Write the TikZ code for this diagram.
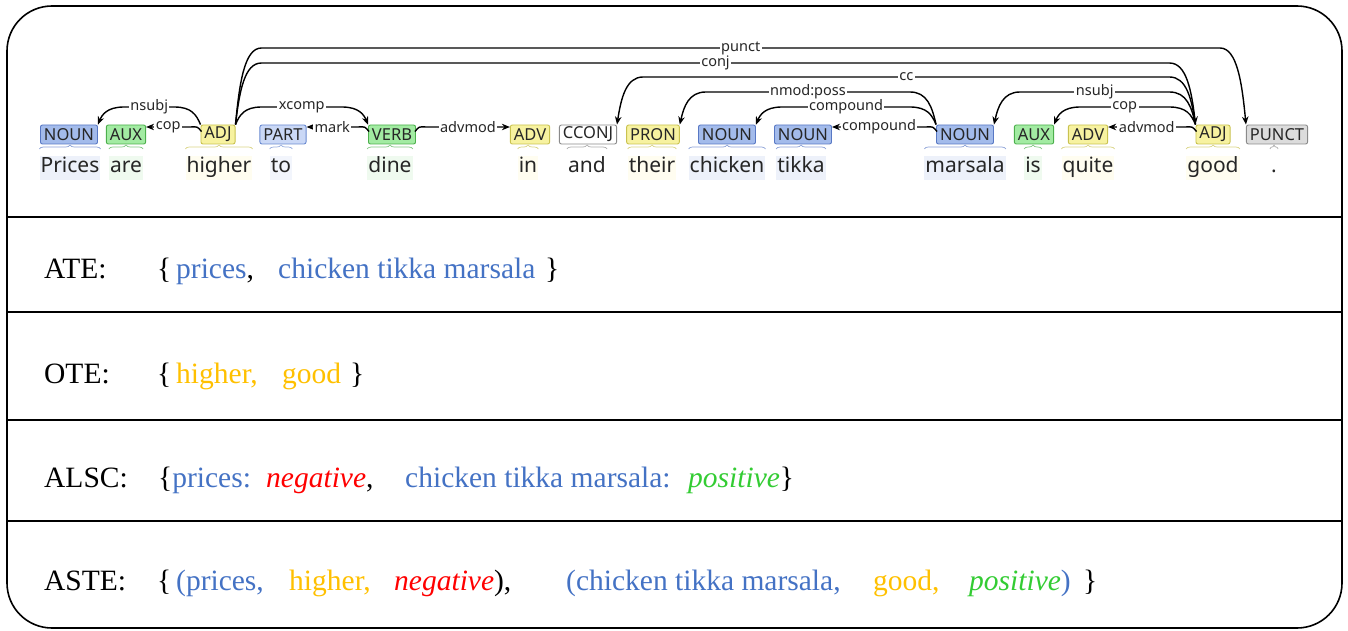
\documentclass[tikz,border=0pt]{standalone}
\usepackage{fontspec}
\setmainfont{Liberation Serif}
\newfontfamily\depfont{Noto Sans}
\usetikzlibrary{arrows.meta,calc,decorations.pathreplacing}

\definecolor{nounF}{HTML}{A3BBEB}\definecolor{nounD}{HTML}{5878C4}\definecolor{nounW}{HTML}{EDF1FA}
\definecolor{auxF}{HTML}{A2EBA2}\definecolor{auxD}{HTML}{4CAF4C}\definecolor{auxW}{HTML}{EFFAEF}
\definecolor{adjF}{HTML}{F7F2A0}\definecolor{adjD}{HTML}{C9C250}\definecolor{adjW}{HTML}{FFFDF0}
\definecolor{partF}{HTML}{CAD8F6}\definecolor{partD}{HTML}{6A8AD0}\definecolor{partW}{HTML}{F2F5FC}
\definecolor{puncF}{HTML}{DCDCDC}\definecolor{greyD}{HTML}{8A8A8A}
\definecolor{aspect}{HTML}{4472C4}
\definecolor{opinion}{HTML}{FFC000}
\definecolor{negc}{HTML}{FF0000}
\definecolor{posc}{HTML}{33CC33}

\tikzset{
  tag/.style={draw, rounded corners=2pt, line width=0.9pt, minimum height=19pt,
    inner xsep=3.5pt, inner ysep=0pt, text=black!85, font=\depfont\fontsize{16.5}{17}\selectfont},
  word/.style={anchor=base, inner xsep=1pt, inner ysep=2pt, text height=15pt, text depth=5pt,
    text=black!85, font=\depfont\fontsize{21}{22}\selectfont},
  dep/.style={line width=1.4pt, -{Stealth[length=8pt,width=6.5pt]}},
  lbl/.style={fill=white, inner xsep=1.5pt, inner ysep=0.5pt, text=black!85,
    font=\depfont\fontsize{14.5}{15}\selectfont},
  brc/.style={decorate, decoration={brace, amplitude=4pt}, line width=0.7pt},
  txt/.style={anchor=base west, inner sep=0pt, font=\fontsize{29.5}{31}\selectfont},
  rule/.style={line width=1.6pt}
}

% long arc from a head to a dependent on its right / left:
% a slanted rise, a rounded bend, a level run, and the mirrored descent
\newcommand\arcR[4]{\draw[dep] (#1)
  .. controls ($(#1)!0.55!(#1 |- #3)+(4,0)$) and ($(#1 |- #3)+(9,0)$) .. ($(#1 |- #3)+(26,0)$)
  -- node[lbl]{#4} ($(#2 |- #3)+(-26,0)$)
  .. controls ($(#2 |- #3)+(-9,0)$) and ($(#2)!0.55!(#2 |- #3)+(-4,0)$) .. (#2);}
\newcommand\arcL[4]{\draw[dep] (#1)
  .. controls ($(#1)!0.55!(#1 |- #3)+(-4,0)$) and ($(#1 |- #3)+(-9,0)$) .. ($(#1 |- #3)+(-26,0)$)
  -- node[lbl]{#4} ($(#2 |- #3)+(26,0)$)
  .. controls ($(#2 |- #3)+(9,0)$) and ($(#2)!0.55!(#2 |- #3)+(4,0)$) .. (#2);}
% short arc between neighbours
\newcommand\shortL[3]{\draw[dep] ($(#1.north west)+(1,7)$) .. controls ($(#1.north west)+(-3,2)$) ..
  ($(#1.north west |- L127)+(-10,0)$) -- node[lbl]{#3} (#2.east |- L127);}
\newcommand\shortR[3]{\draw[dep] ($(#1.north east)+(-1,7)$) .. controls ($(#1.north east)+(3,2)$) ..
  ($(#1.north east |- L127)+(10,0)$) -- node[lbl]{#3} (#2.west |- L127);}

\begin{document}
\begin{tikzpicture}[x=1pt,y=-1pt]
\useasboundingbox (0,0) rectangle (1348,631);

% frame and row separators
\draw[rule, rounded corners=45pt] (7,6) rectangle (1342,628);
\foreach \yy in {217,312,420,521} \draw[rule] (7,\yy) -- (1342,\yy);

% arc levels
\coordinate (L48) at (0,48);
\coordinate (L63) at (0,63);
\coordinate (L77) at (0,77);
\coordinate (L92) at (0,92);
\coordinate (L107) at (0,107);
\coordinate (L127) at (0,127);
\coordinate (BR) at (0,149);

% words
\node[word, fill=nounW] (w1) at (70,173) {Prices};
\node[word, fill=auxW] (w2) at (126,173) {are};
\node[word, fill=adjW] (w3) at (219,173) {higher};
\node[word, fill=partW] (w4) at (281,173) {to};
\node[word, fill=auxW] (w5) at (390,173) {dine};
\node[word, fill=adjW] (w6) at (528,173) {in};
\node[word] (w7) at (587,173) {and};
\node[word, fill=adjW] (w8) at (652,173) {their};
\node[word, fill=nounW] (w9) at (727,173) {chicken};
\node[word, fill=nounW] (w10) at (801,173) {tikka};
\node[word, fill=nounW] (w11) at (965,173) {marsala};
\node[word, fill=auxW] (w12) at (1033,173) {is};
\node[word, fill=adjW] (w13) at (1088,173) {quite};
\node[word, fill=adjW] (w14) at (1213,173) {good};
\node[word] (w15) at (1274,173) {.};

% part-of-speech tags
\node[tag, fill=nounF, draw=nounD] (t1) at (69,134.5) {NOUN};
\node[tag, fill=auxF, draw=auxD] (t2) at (126,134.5) {AUX};
\node[tag, fill=adjF, draw=adjD] (t3) at (218,134.5) {ADJ};
\node[tag, fill=partF, draw=partD] (t4) at (283,134.5) {PART};
\node[tag, fill=auxF, draw=auxD] (t5) at (392,134.5) {VERB};
\node[tag, fill=adjF, draw=adjD] (t6) at (530,134.5) {ADV};
\node[tag, fill=white, draw=greyD] (t7) at (588,134.5) {CCONJ};
\node[tag, fill=adjF, draw=adjD] (t8) at (653,134.5) {PRON};
\node[tag, fill=nounF, draw=nounD] (t9) at (727,134.5) {NOUN};
\node[tag, fill=nounF, draw=nounD] (t10) at (803,134.5) {NOUN};
\node[tag, fill=nounF, draw=nounD] (t11) at (965,134.5) {NOUN};
\node[tag, fill=auxF, draw=auxD] (t12) at (1034,134.5) {AUX};
\node[tag, fill=adjF, draw=adjD] (t13) at (1088,134.5) {ADV};
\node[tag, fill=adjF, draw=adjD] (t14) at (1213,134.5) {ADJ};
\node[tag, fill=puncF, draw=greyD] (t15) at (1277,134.5) {PUNCT};

% braces joining tags and words
\foreach \w/\c in {w1/nounD,w2/auxD,w3/adjD,w4/partD,w5/auxD,w6/adjD,w7/greyD,w8/adjD,
                   w9/nounD,w10/nounD,w11/nounD,w12/auxD,w13/adjD,w14/adjD,w15/greyD}
  \draw[brc, draw=\c!70] (\w.west |- BR) -- (\w.east |- BR);

% dependency arcs
\arcR{t3.north east}{t15.north west}{L48}{punct}
\arcR{t3.north east}{t14.north west}{L63}{conj}
\arcL{t14.north west}{t7.north east}{L77}{cc}
\arcL{t11.north west}{t8.north east}{L92}{nmod:poss}
\arcL{t14.north west}{t11.north east}{L92}{nsubj}
\arcL{t11.north west}{t9.north east}{L107}{compound}
\arcL{t14.north west}{t12.north east}{L107}{cop}
\arcL{t3.north west}{t1.north east}{L107}{nsubj}
\arcR{t3.north east}{t5.north west}{L107}{xcomp}
\shortL{t3}{t2}{cop}
\shortL{t5}{t4}{mark}
\shortR{t5}{t6}{advmod}
\shortL{t11}{t10}{compound}
\shortL{t14}{t13}{advmod}

% ATE
\node[txt] (ate) at (44,278) {ATE:};
\node[txt] (ate1) at (157,278) {\{};
\node[txt, text=aspect] (ate2) at (176,278) {prices\textcolor{black}{,}};
\node[txt, text=aspect] (ate3) at (278,278) {chicken tikka marsala};
\node[txt] (ate4) at (545,278) {\}};

% OTE
\node[txt] (ote) at (44,383) {OTE:};
\node[txt] (ote1) at (157,383) {\{};
\node[txt, text=opinion] (ote2) at (176,383) {higher,};
\node[txt, text=opinion] (ote3) at (282,383) {good};
\node[txt] (ote4) at (350,383) {\}};

% ALSC
\node[txt] (alsc) at (44,487) {ALSC:};
\node[txt] (alsc1) at (158,487) {\{\textcolor{aspect}{prices:}};
\node[txt] (alsc2) at (266,487) {\textcolor{negc}{\itshape negative},};
\node[txt, text=aspect] (alsc3) at (405,487) {chicken tikka marsala:};
\node[txt] (alsc4) at (688,487) {\textcolor{posc}{\itshape positive}\}};

% ASTE
\node[txt] (aste) at (44,590) {ASTE:};
\node[txt] (aste1) at (157,590) {\{};
\node[txt, text=aspect] (aste2) at (176,590) {(prices,};
\node[txt, text=opinion] (aste3) at (289,590) {higher,};
\node[txt] (aste4) at (394,590) {\textcolor{negc}{\itshape negative}),};
\node[txt, text=aspect] (aste5) at (566,590) {(chicken tikka marsala,};
\node[txt, text=opinion] (aste6) at (873,590) {good,};
\node[txt, text=aspect] (aste7) at (969,590) {\textcolor{posc}{\itshape positive})};
\node[txt] (aste8) at (1083,590) {\}};
\end{tikzpicture}
\end{document}
